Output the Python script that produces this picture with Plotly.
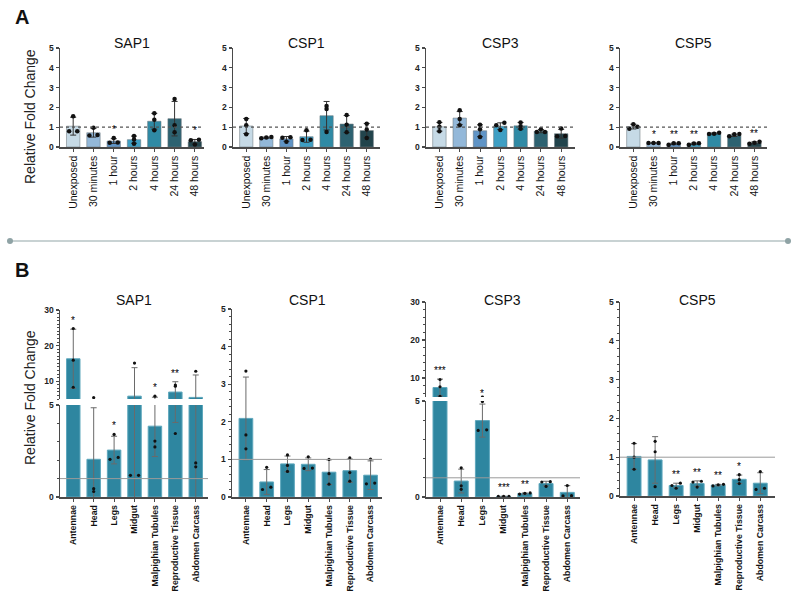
import plotly.graph_objects as go

W, H = 800, 594
FONT = "Liberation Sans, Arial, sans-serif"
AX = "#4a4a4a"

# ---------------- data ----------------
A_CATS = ["Unexposed", "30 minutes", "1 hour", "2 hours", "4 hours", "24 hours", "48 hours"]
A_COLORS = ["#c6dae6", "#93b8d9", "#5f94c6", "#3e9fc4", "#2f8aa5", "#2d6271", "#22444c"]
B_CATS = ["Antennae", "Head", "Legs", "Midgut", "Malpighian Tubules", "Reproductive Tissue", "Abdomen Carcass"]
B_COLOR = "#2e86a0"

A_SAP1_MEAN = [1.05, 0.72, 0.30, 0.37, 1.30, 1.43, 0.27]
A_SAP1_SD = [0.45, 0.22, 0.12, 0.18, 0.40, 0.87, 0.11]
A_SAP1_PTS = [[1.55, 0.80, 0.80], [0.97, 0.60, 0.58], [0.45, 0.23, 0.22], [0.55, 0.38, 0.17],
              [1.70, 1.38, 0.85], [2.42, 1.10, 0.75], [0.36, 0.34, 0.12]]
A_SAP1_SIG = ["", "", "*", "", "", "", "*"]

A_CSP1_MEAN = [1.06, 0.47, 0.41, 0.52, 1.58, 1.16, 0.83]
A_CSP1_SD = [0.38, 0.03, 0.12, 0.28, 0.72, 0.43, 0.36]
A_CSP1_PTS = [[1.42, 1.10, 0.65], [0.50, 0.48, 0.44], [0.49, 0.47, 0.27], [0.84, 0.37, 0.35],
              [2.07, 1.92, 0.76], [1.62, 1.12, 0.75], [1.17, 0.88, 0.45]]
A_CSP1_SIG = ["", "", "", "", "", "", ""]

A_CSP3_MEAN = [1.02, 1.46, 0.82, 1.05, 1.07, 0.80, 0.67]
A_CSP3_SD = [0.22, 0.33, 0.30, 0.17, 0.17, 0.08, 0.22]
A_CSP3_PTS = [[1.25, 1.02, 0.80], [1.86, 1.42, 1.10], [1.12, 0.90, 0.50], [1.22, 1.10, 0.86],
              [1.24, 1.05, 0.92], [0.90, 0.76, 0.76], [0.93, 0.55, 0.54]]
A_CSP3_SIG = ["", "", "", "", "", "", ""]

A_CSP5_MEAN = [1.03, 0.20, 0.16, 0.16, 0.68, 0.59, 0.21]
A_CSP5_SD = [0.12, 0.01, 0.04, 0.04, 0.03, 0.06, 0.05]
A_CSP5_PTS = [[1.15, 1.02, 0.92], [0.20, 0.20, 0.20], [0.19, 0.19, 0.11], [0.19, 0.18, 0.11],
              [0.72, 0.67, 0.66], [0.66, 0.64, 0.54], [0.26, 0.22, 0.17]]
A_CSP5_SIG = ["", "*", "**", "**", "", "", "**"]

B_SAP1_MEAN = [16.3, 2.05, 2.55, 5.8, 3.85, 6.95, 5.45]
B_SAP1_SD = [8.3, 2.8, 0.75, 8.0, 1.65, 2.9, 6.3]
B_SAP1_PTS = [[24.8, 15.9, 8.3], [5.4, 0.45, 0.30], [3.40, 2.15, 2.05], [15.1, 1.18, 1.18],
              [5.8, 3.04, 2.72], [8.9, 8.6, 3.45], [12.8, 1.85, 1.64]]
B_SAP1_SIG = ["*", "", "*", "", "*", "**", ""]

B_CSP1_MEAN = [2.09, 0.40, 0.88, 0.87, 0.66, 0.70, 0.58]
B_CSP1_SD = [1.10, 0.33, 0.21, 0.17, 0.33, 0.31, 0.38]
B_CSP1_PTS = [[3.35, 1.65, 1.28], [0.79, 0.26, 0.20], [1.12, 0.84, 0.68], [1.07, 0.77, 0.76],
              [1.00, 0.62, 0.34], [1.04, 0.65, 0.42], [1.01, 0.37, 0.35]]
B_CSP1_SIG = ["", "", "", "", "", "", ""]

B_CSP3_MEAN = [7.5, 0.83, 3.98, 0.03, 0.18, 0.70, 0.24]
B_CSP3_SD = [2.2, 0.62, 0.86, 0.01, 0.03, 0.12, 0.35]
B_CSP3_PTS = [[9.6, 7.7, 5.2], [1.52, 0.58, 0.40], [4.97, 3.50, 3.47], [0.03, 0.03, 0.03],
              [0.21, 0.19, 0.15], [0.80, 0.78, 0.55], [0.60, 0.07, 0.06]]
B_CSP3_SIG = ["***", "", "*", "***", "**", "", ""]

B_CSP5_MEAN = [1.02, 0.93, 0.27, 0.32, 0.28, 0.43, 0.33]
B_CSP5_SD = [0.33, 0.60, 0.06, 0.07, 0.02, 0.11, 0.27]
B_CSP5_PTS = [[1.36, 1.00, 0.69], [1.41, 1.14, 0.24], [0.33, 0.27, 0.20], [0.38, 0.36, 0.23],
              [0.30, 0.29, 0.26], [0.55, 0.42, 0.32], [0.63, 0.20, 0.17]]
B_CSP5_SIG = ["", "", "**", "**", "**", "*", ""]

BREAK = 5


# ---------------- helpers ----------------
def sfx(n):
    return "" if n == 1 else str(n)


def dx(x0, x1):
    return [x0 / W, x1 / W]


def dy(top, bot):
    return [1 - bot / H, 1 - top / H]


def offsets(vals, thr):
    idx = sorted(range(len(vals)), key=lambda i: vals[i])
    groups = []
    for i in idx:
        if groups and abs(vals[i] - vals[groups[-1][-1]]) < thr:
            groups[-1].append(i)
        else:
            groups.append([i])
    off = [0.0] * len(vals)
    for g in groups:
        pat = {1: [0.0], 2: [-0.2, 0.2], 3: [-0.25, 0.0, 0.25]}.get(len(g), [0.0] * len(g))
        for j, i in enumerate(g):
            off[i] = pat[j]
    return off


fig = go.Figure()
annotations = []
layout_axes = {}
shapes = []


def add_traces(n, cats, mean, sd, pts, colors, line_col, err_col, dot_size, thr):
    xs = list(range(len(cats)))
    fig.add_trace(go.Bar(
        x=xs, y=mean, width=0.66,
        marker=dict(color=colors, line=dict(color=line_col, width=1)),
        error_y=dict(type="data", array=sd, visible=True, color=err_col, thickness=1, width=3),
        xaxis="x" + sfx(n), yaxis="y" + sfx(n), hoverinfo="skip", showlegend=False))
    px_, py_ = [], []
    for i, p in enumerate(pts):
        for v, o in zip(p, offsets(p, thr)):
            px_.append(i + o)
            py_.append(v)
    fig.add_trace(go.Scatter(
        x=px_, y=py_, mode="markers", marker=dict(color="#111", size=dot_size),
        xaxis="x" + sfx(n), yaxis="y" + sfx(n), cliponaxis=True, hoverinfo="skip", showlegend=False))


def add_stars(n_low, n_up, mean, sd, pts, sig):
    for i, s in enumerate(sig):
        if not s:
            continue
        top = max(mean[i] + sd[i], max(pts[i]))
        n = n_up if (n_up is not None and top > BREAK) else n_low
        annotations.append(dict(x=i, y=top, xref="x" + sfx(n), yref="y" + sfx(n), text=s, showarrow=False,
                                yanchor="bottom", yshift=1,
                                font=dict(size=10, color="#000", family=FONT)))


def xaxis(n, domain, cats, rng, fsize, bold, visible=True):
    layout_axes["xaxis" + sfx(n)] = dict(
        domain=domain, anchor="y" + sfx(n), range=rng, tickmode="array",
        tickvals=list(range(len(cats))), ticktext=cats, tickangle=-90,
        showline=visible, visible=visible, linecolor=AX, linewidth=1.5,
        ticks="outside", ticklen=3, tickwidth=1, tickcolor=AX, automargin=False,
        tickfont=dict(size=fsize, color="#111", family=FONT, weight="bold" if bold else "normal"),
        showgrid=False, zeroline=False, fixedrange=True)


def yaxis(n, domain, rng, dtick, minor=None, fsize=8.5):
    d = dict(domain=domain, anchor="x" + sfx(n), range=rng, tickmode="linear", tick0=0, dtick=dtick,
             showline=True, linecolor=AX, linewidth=1.5, ticks="outside", ticklen=3,
             tickwidth=1.2, tickcolor=AX, automargin=False,
             tickfont=dict(size=fsize, color="#222", family=FONT, weight="bold"),
             showgrid=False, zeroline=False, fixedrange=True)
    if minor:
        d["minor"] = dict(ticks="outside", ticklen=2, tickwidth=1, tickcolor=AX,
                          tickmode="linear", tick0=0, dtick=minor, showgrid=False)
    layout_axes["yaxis" + sfx(n)] = d


def hline(n, y, color, dash, width):
    shapes.append(dict(type="line", xref="x" + sfx(n) + " domain", yref="y" + sfx(n), x0=0, x1=1, y0=y, y1=y,
                       line=dict(color=color, dash=dash, width=width), layer="above"))


def title(domain_x, ypx, text):
    annotations.append(dict(x=(domain_x[0] + domain_x[1]) / 2, y=1 - ypx / H, xref="paper", yref="paper",
                            text=text, showarrow=False, font=dict(size=14, color="#111", family=FONT),
                            xanchor="center", yanchor="middle"))


# ---------------- panel A ----------------
A_PANELS = [
    ("SAP1", A_SAP1_MEAN, A_SAP1_SD, A_SAP1_PTS, A_SAP1_SIG, (60, 204), [-0.65, 6.45]),
    ("CSP1", A_CSP1_MEAN, A_CSP1_SD, A_CSP1_PTS, A_CSP1_SIG, (233, 380), [-0.66, 6.66]),
    ("CSP3", A_CSP3_MEAN, A_CSP3_SD, A_CSP3_PTS, A_CSP3_SIG, (426, 575), [-0.66, 6.68]),
    ("CSP5", A_CSP5_MEAN, A_CSP5_SD, A_CSP5_PTS, A_CSP5_SIG, (620, 767), [-0.66, 6.62]),
]
for k, (name, mean, sd, pts, sig, xr, rng) in enumerate(A_PANELS):
    n = k + 1
    xd = dx(*xr)
    yd = dy(48, 147)
    add_traces(n, A_CATS, mean, sd, pts, A_COLORS, "rgba(110,120,125,0.55)", "#333", 4.5, 0.12)
    xaxis(n, xd, A_CATS, rng, 10.5, False)
    yaxis(n, yd, [0, 5], 1)
    hline(n, 1, "#555", "dot", 1.2)
    add_stars(n, None, mean, sd, pts, sig)
    title(xd, 43, name)

# ---------------- panel B ----------------
B_LINE = "#5ea7bc"
B_ERR = "#6a6a6a"
B_RNG = [-0.66, 6.6]
B_DOT = 3.2
B_FS = 8.8

# SAP1 (broken axis): lower 5, upper 6
xd = dx(60, 208)
add_traces(5, B_CATS, B_SAP1_MEAN, B_SAP1_SD, B_SAP1_PTS, B_COLOR, B_LINE, B_ERR, B_DOT, 0.15)
add_traces(6, B_CATS, B_SAP1_MEAN, B_SAP1_SD, B_SAP1_PTS, B_COLOR, B_LINE, B_ERR, B_DOT, 0.15)
xaxis(5, xd, B_CATS, [-0.65, 6.6], B_FS, True)
xaxis(6, xd, B_CATS, [-0.65, 6.6], B_FS, True, visible=False)
yaxis(5, dy(405, 497), [0, BREAK], 5, 1)
yaxis(6, dy(310, 399), [BREAK, 30], 10, 1)
hline(5, 1, "#9a9a9a", "solid", 1)
add_stars(5, 6, B_SAP1_MEAN, B_SAP1_SD, B_SAP1_PTS, B_SAP1_SIG)
title(xd, 300, "SAP1")

# CSP1: 7
xd = dx(232, 382)
add_traces(7, B_CATS, B_CSP1_MEAN, B_CSP1_SD, B_CSP1_PTS, B_COLOR, B_LINE, B_ERR, B_DOT, 0.07)
xaxis(7, xd, B_CATS, [-0.67, 6.55], B_FS, True)
yaxis(7, dy(309, 497), [0, 5], 1, 0.2)
hline(7, 1, "#9a9a9a", "solid", 1)
add_stars(7, None, B_CSP1_MEAN, B_CSP1_SD, B_CSP1_PTS, B_CSP1_SIG)
title(xd, 300, "CSP1")

# CSP3 (broken axis): lower 8, upper 9
xd = dx(426, 580)
add_traces(8, B_CATS, B_CSP3_MEAN, B_CSP3_SD, B_CSP3_PTS, B_COLOR, B_LINE, B_ERR, B_DOT, 0.15)
add_traces(9, B_CATS, B_CSP3_MEAN, B_CSP3_SD, B_CSP3_PTS, B_COLOR, B_LINE, B_ERR, B_DOT, 0.15)
xaxis(8, xd, B_CATS, B_RNG, B_FS, True)
xaxis(9, xd, B_CATS, B_RNG, B_FS, True, visible=False)
yaxis(8, dy(401, 497), [0, BREAK], 5, 1)
yaxis(9, dy(302, 397), [BREAK, 30], 10, 2)
hline(8, 1, "#9a9a9a", "solid", 1)
add_stars(8, 9, B_CSP3_MEAN, B_CSP3_SD, B_CSP3_PTS, B_CSP3_SIG)
title(xd, 300, "CSP3")

# CSP5: 10
xd = dx(620, 775)
add_traces(10, B_CATS, B_CSP5_MEAN, B_CSP5_SD, B_CSP5_PTS, B_COLOR, B_LINE, B_ERR, B_DOT, 0.07)
xaxis(10, xd, B_CATS, [-0.67, 6.7], B_FS, True)
yaxis(10, dy(302, 496), [0, 5], 1, 0.2)
hline(10, 1, "#9a9a9a", "solid", 1)
add_stars(10, None, B_CSP5_MEAN, B_CSP5_SD, B_CSP5_PTS, B_CSP5_SIG)
title(xd, 300, "CSP5")

# ---------------- decorations ----------------
for ypx in (117, 398):
    annotations.append(dict(x=30 / W, y=1 - ypx / H, xref="paper", yref="paper", text="Relative Fold Change",
                            textangle=-90, showarrow=False, font=dict(size=14, color="#222", family=FONT),
                            xanchor="center", yanchor="middle"))
for lbl, ypx in (("A", 17), ("B", 270)):
    annotations.append(dict(x=22 / W, y=1 - ypx / H, xref="paper", yref="paper", text=lbl, showarrow=False,
                            font=dict(size=20, color="#111", family=FONT, weight="bold"),
                            xanchor="center", yanchor="middle"))

sep_y = 1 - 241 / H
shapes.append(dict(type="line", xref="paper", yref="paper", x0=10 / W, x1=788 / W, y0=sep_y, y1=sep_y,
                   line=dict(color="#b6c3c5", width=1.5)))
for cx in (10, 788):
    shapes.append(dict(type="circle", xref="paper", yref="paper",
                       x0=(cx - 3) / W, x1=(cx + 3) / W, y0=1 - 244 / H, y1=1 - 238 / H,
                       fillcolor="#8fa3a5", line=dict(width=0)))

fig.update_layout(
    width=W, height=H, margin=dict(l=0, r=0, t=0, b=0),
    paper_bgcolor="white", plot_bgcolor="white", showlegend=False,
    barmode="overlay", annotations=annotations, shapes=shapes, **layout_axes)

fig.write_html("out.html", config={"displayModeBar": False, "staticPlot": True},
               post_script="document.body.style.margin='0';document.body.style.overflow='hidden';")
